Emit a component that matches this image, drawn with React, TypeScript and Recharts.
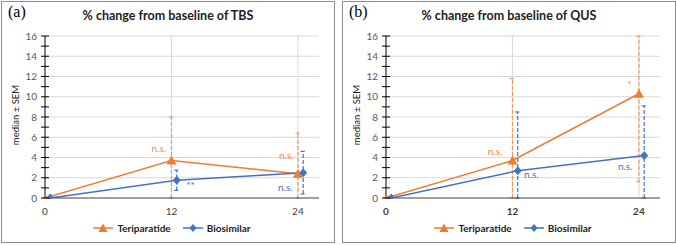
import React from "react";
import { LineChart, Line, XAxis, YAxis, CartesianGrid, ErrorBar, ReferenceDot } from "recharts";

const ORANGE = "#ED7D31";
const BLUE = "#4472C4";

const months = [0, 12, 24];
const biosimilarShift = 0.5;
const yMax = 16;
const yTicks = [0, 1, 2, 3, 4, 5, 6, 7, 8, 9, 10, 11, 12, 13, 14, 15, 16];

// TBS panel
const tbsTeriparatide = [0, 3.7, 2.4];
const tbsTeriparatideSem = [0, 4.3, 4.0];
const tbsBiosimilar = [0, 1.75, 2.5];
const tbsBiosimilarSem = [0, 1.0, 2.1];

// QUS panel
const qusTeriparatide = [0, 3.7, 10.3];
const qusTeriparatideSem = [0, 8.1, 8.7];
const qusBiosimilar = [0, 2.7, 4.2];
const qusBiosimilarSem = [0, 5.8, 4.9];

// significance marks (x in months, y in %)
const tbsNotes = [
    {x: 10.8, y: 4.9, text: "n.s.", series: "ter"},
    {x: 13.8, y: 1.2, text: "**", series: "bio"},
    {x: 22.9, y: 4.25, text: "n.s.", series: "ter"},
    {x: 22.8, y: 1.0, text: "n.s.", series: "bio"},
];
const qusNotes = [
    {x: 10.35, y: 4.6, text: "n.s.", series: "ter"},
    {x: 13.8, y: 2.3, text: "n.s.", series: "bio"},
    {x: 23.1, y: 11.2, text: "*", series: "ter"},
    {x: 22.7, y: 3.1, text: "n.s.", series: "bio"},
];

// error bars are cut at the plot edges, like the original
const rows = (xs: number[], ys: number[], es: number[], dx = 0) =>
    xs.map((m, i) => ({
        x: m + dx,
        y: ys[i],
        e: [Math.min(es[i], ys[i]), Math.min(es[i], yMax - ys[i])],
    }));

const Triangle = (p: any) => {
    const {cx, cy} = p;
    return <path d={`M${cx},${cy - 5}L${cx + 5},${cy + 4}L${cx - 5},${cy + 4}Z`} fill={ORANGE}/>;
};
const Diamond = (p: any) => {
    const {cx, cy} = p;
    return <path d={`M${cx},${cy - 4.5}L${cx + 4},${cy}L${cx},${cy + 4.5}L${cx - 4},${cy}Z`} fill={BLUE}/>;
};

const YTick = (p: any) => {
    const {x, y, payload} = p;
    const v = payload.value;
    return (
        <g>
            <line x1={x - 4} x2={x + 4} y1={y} y2={y} stroke="#000"/>
            {v % 2 === 0 && (
                <text x={x - 8} y={y} dy={3.5} textAnchor="end" fontSize={10} fill="#595959">{v}</text>
            )}
        </g>
    );
};

const font = "Lato, 'Noto Sans', sans-serif";

function Panel({left, tag, title, ter, terSem, bio, bioSem, notes, boldX}: any) {
    const terData = rows(months, ter, terSem);
    const bioData = rows(months, bio, bioSem, biosimilarShift);
    return (
        <div style={{
            position: "absolute", left, top: 1, width: 334, height: 242, boxSizing: "border-box",
            border: "1px solid #8c8c8c", background: "#fff", fontFamily: font,
        }}>
            <div style={{position: "absolute", left: 6, top: 1, fontFamily: "'Liberation Serif', serif", fontSize: 16}}>{tag}</div>
            <div style={{position: "absolute", left: 0, width: 332, top: 6, textAlign: "center", fontSize: 12.5, fontWeight: 700, color: "#222"}}>{title}</div>
            <div style={{
                position: "absolute", left: 13, top: 113, fontSize: 9.5, color: "#222",
                transform: "translate(-50%, -50%) rotate(-90deg)", whiteSpace: "nowrap",
            }}>median ± SEM</div>
            <LineChart width={332} height={240} margin={{top: 34, right: 15, left: 13, bottom: 24}}>
                <CartesianGrid stroke="#d9d9d9" horizontalValues={[2, 4, 6, 8, 10, 12, 14, 16]} verticalValues={[12, 24]}/>
                <XAxis type="number" dataKey="x" domain={[0, 26]} ticks={months} height={20} allowDataOverflow
                       axisLine={{stroke: "#404040"}} tickLine={false} tickMargin={4}
                       tick={{fontSize: 10, fill: "#404040", fontWeight: boldX ? 700 : 400}}/>
                <YAxis type="number" domain={[0, yMax]} ticks={yTicks} interval={0} width={30} allowDataOverflow
                       axisLine={{stroke: "#000"}} tickLine={false} tickSize={0} tickMargin={0} tick={<YTick/>}/>
                <Line data={terData} dataKey="y" stroke={ORANGE} strokeWidth={1.5} dot={<Triangle/>}
                      isAnimationActive={false}>
                    <ErrorBar dataKey="e" direction="y" width={2.5} stroke="#F29A5E" strokeWidth={1.2}
                              strokeDasharray="4 2"/>
                </Line>
                <Line data={bioData} dataKey="y" stroke={BLUE} strokeWidth={1.5} dot={<Diamond/>}
                      isAnimationActive={false}>
                    <ErrorBar dataKey="e" direction="y" width={2.5} stroke={BLUE} strokeWidth={1.2}
                              strokeDasharray="4 2"/>
                </Line>
                {notes.map((n: any, i: number) => (
                    <ReferenceDot key={i} x={n.x} y={n.y} r={0} ifOverflow="visible"
                                  label={{value: n.text, position: "center", fontSize: 10,
                                      fill: n.series === "ter" ? "#F08A4B" : BLUE}}/>
                ))}
            </LineChart>
            <div style={{
                position: "absolute", left: 0, width: 340, top: 220, display: "flex", justifyContent: "center",
                alignItems: "center", fontSize: 10, fontWeight: 700, color: "#222", gap: 4,
            }}>
                <svg width={20} height={10}>
                    <line x1={0} x2={20} y1={5} y2={5} stroke={ORANGE} strokeWidth={1.5}/>
                    <path d="M10,0.5L14.5,9L5.5,9Z" fill={ORANGE}/>
                </svg>
                <span style={{marginRight: 8}}>Teriparatide</span>
                <svg width={20} height={10}>
                    <line x1={0} x2={20} y1={5} y2={5} stroke={BLUE} strokeWidth={1.5}/>
                    <path d="M10,1L13.5,5L10,9L6.5,5Z" fill={BLUE}/>
                </svg>
                <span>Biosimilar</span>
            </div>
        </div>
    );
}

export default function App() {
    return (
        <div style={{position: "absolute", left: 0, top: 0, width: 676, height: 245, background: "#fff"}}>
            <Panel left={1} tag="(a)" title="% change from baseline of TBS" ter={tbsTeriparatide}
                   terSem={tbsTeriparatideSem} bio={tbsBiosimilar} bioSem={tbsBiosimilarSem} notes={tbsNotes}/>
            <Panel left={342} tag="(b)" title="% change from baseline of QUS" ter={qusTeriparatide}
                   terSem={qusTeriparatideSem} bio={qusBiosimilar} bioSem={qusBiosimilarSem} notes={qusNotes}
                   boldX/>
        </div>
    );
}
